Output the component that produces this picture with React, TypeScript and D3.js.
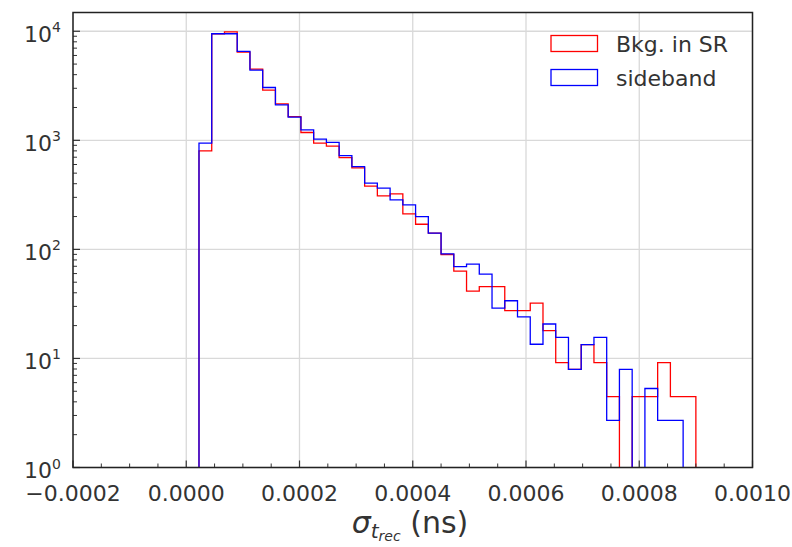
import React from "react";
import * as d3 from "d3";

// Histogram binning (40 equal bins from 0 to 0.0009 ns)
const binStart = 0;
const binWidth = 0.0000225;

// Weighted counts per bin
const bkgInSR = [
  0, 801, 9450, 9890, 6450, 4500, 2890, 2160, 1650, 1180,
  942, 885, 695, 559, 380, 310, 323, 212, 170, 141,
  89.8, 63.2, 41.4, 45.5, 45.5, 27.5, 27.5, 32.1, 18.0, 9.15,
  7.95, 13.4, 9.15, 4.46, 0, 4.46, 4.46, 9.15, 4.46, 4.46,
];
const sideband = [
  0, 942, 9485, 9485, 6530, 4406, 3050, 2117, 1633, 1248,
  1026, 959, 724, 574, 405, 364, 284, 256, 200, 141,
  91, 69.5, 73.3, 59.2, 28.9, 33.8, 24.0, 13.5, 20.7, 15.6,
  7.95, 13.4, 15.6, 2.7, 7.95, 0, 5.3, 2.7, 2.7, 0,
];

const seriesNames = ["Bkg. in SR", "sideband"];
const seriesColors = ["#ff0000", "#0000ff"];

const xMajorTicks = [-0.0002, 0.0, 0.0002, 0.0004, 0.0006, 0.0008, 0.001];
const xTickLabels = ["\u22120.0002", "0.0000", "0.0002", "0.0004", "0.0006", "0.0008", "0.0010"];
const yDecades = [0, 1, 2, 3, 4];

const W = 792;
const H = 547;
const left = 73;
const right = 752.5;
const top = 12.5;
const bottom = 467.5;

const font = "'DejaVu Sans', sans-serif";
const textColor = "#333";

export default function App() {
  const x = d3.scaleLinear().domain([-0.0002, 0.001]).range([left, right]);
  const y = d3.scaleLog().domain([1, Math.pow(10, 4.172)]).range([bottom, top]);

  const stepPath = (vals: number[]) => {
    const below = bottom + 30;
    const yy = (v: number) => (v > 0 ? y(v) : below);
    const pts: [number, number][] = [];
    pts.push([x(binStart), below]);
    vals.forEach((v, i) => {
      const e0 = binStart + i * binWidth;
      const e1 = binStart + (i + 1) * binWidth;
      pts.push([x(e0), yy(v)]);
      pts.push([x(e1), yy(v)]);
    });
    pts.push([x(binStart + vals.length * binWidth), below]);
    return d3.line()(pts) as string;
  };

  const xMinor: number[] = [];
  for (let k = -4; k <= 20; k++) {
    const v = k * 0.00005;
    if (k % 4 !== 0) xMinor.push(v);
  }
  const yMinor: number[] = [];
  for (let d = 0; d < 5; d++) {
    for (let m = 2; m <= 9; m++) {
      const v = m * Math.pow(10, d);
      if (y(v) >= top) yMinor.push(v);
    }
  }

  const gridColor = "#d9d9d9";

  return (
    <svg
      width={W}
      height={H}
      style={{ position: "absolute", left: 0, top: 0, background: "#fff" }}
      xmlns="http://www.w3.org/2000/svg"
    >
      <rect x={0} y={0} width={W} height={H} fill="#fff" />
      <defs>
        <clipPath id="plotClip">
          <rect x={left} y={top} width={right - left} height={bottom - top} />
        </clipPath>
      </defs>

      {/* grid */}
      {xMajorTicks.map((t, i) => (
        <line key={"gx" + i} x1={x(t)} x2={x(t)} y1={top} y2={bottom} stroke={gridColor} strokeWidth={1.3} />
      ))}
      {yDecades.map((d) => (
        <line key={"gy" + d} x1={left} x2={right} y1={y(Math.pow(10, d))} y2={y(Math.pow(10, d))} stroke={gridColor} strokeWidth={1.3} />
      ))}

      {/* histograms */}
      <g clipPath="url(#plotClip)">
        <path d={stepPath(bkgInSR)} fill="none" stroke={seriesColors[0]} strokeWidth={1.3} />
        <path d={stepPath(sideband)} fill="none" stroke={seriesColors[1]} strokeWidth={1.3} />
      </g>

      {/* ticks (inward) */}
      {xMajorTicks.map((t, i) => (
        <line key={"tx" + i} x1={x(t)} x2={x(t)} y1={bottom} y2={bottom - 7} stroke="#333" strokeWidth={1.2} />
      ))}
      {xMinor.map((t, i) => (
        <line key={"mx" + i} x1={x(t)} x2={x(t)} y1={bottom} y2={bottom - 4} stroke="#333" strokeWidth={1} />
      ))}
      {yDecades.map((d) => (
        <line key={"ty" + d} x1={left} x2={left + 7} y1={y(Math.pow(10, d))} y2={y(Math.pow(10, d))} stroke="#333" strokeWidth={1.2} />
      ))}
      {yMinor.map((v, i) => (
        <line key={"my" + i} x1={left} x2={left + 4} y1={y(v)} y2={y(v)} stroke="#333" strokeWidth={1} />
      ))}

      {/* frame */}
      <rect x={left} y={top} width={right - left} height={bottom - top} fill="none" stroke="#222" strokeWidth={1.5} />

      {/* x tick labels */}
      {xMajorTicks.map((t, i) => (
        <text key={"lx" + i} x={x(t)} y={500.5} textAnchor="middle" fontFamily={font} fontSize={22} fill={textColor}>
          {xTickLabels[i]}
        </text>
      ))}

      {/* y tick labels */}
      {yDecades.map((d) => {
        const yt = y(Math.pow(10, d));
        return (
          <text key={"ly" + d} x={61} y={yt + 10.5} textAnchor="end" fontFamily={font} fontSize={22} fill={textColor}>
            10
            <tspan fontSize={14} dy={-9.5}>{String(d)}</tspan>
          </text>
        );
      })}

      {/* x axis label */}
      <text x={410} y={533} textAnchor="middle" fontFamily={font} fontSize={30} fill={textColor}>
        <tspan fontStyle="italic">σ</tspan>
        <tspan fontStyle="italic" fontSize={20} dy={5}>t</tspan>
        <tspan fontStyle="italic" fontSize={14} dy={3}>rec</tspan>
        <tspan dy={-8}> (ns)</tspan>
      </text>

      {/* legend */}
      {seriesNames.map((name, i) => (
        <g key={"lg" + i}>
          <rect x={551} y={35.5 + i * 34} width={46.5} height={16} fill="none" stroke={seriesColors[i]} strokeWidth={1.3} />
          <text x={616} y={51.5 + i * 34} fontFamily={font} fontSize={22} fill={textColor}>
            {name}
          </text>
        </g>
      ))}
    </svg>
  );
}
